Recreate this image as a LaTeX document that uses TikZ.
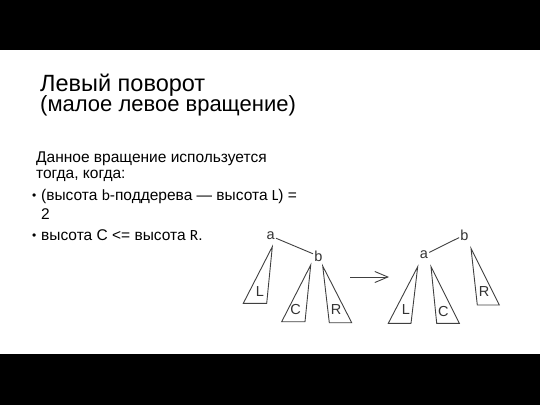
\documentclass[tikz,border=0pt]{standalone}
\usepackage{fontspec}
\setmainfont{Liberation Sans}
\newfontfamily\calfont{Carlito}
\usetikzlibrary{arrows.meta}

\begin{document}
\begin{tikzpicture}[x=1pt,y=-1pt,
		txt/.style={anchor=base west,inner sep=0pt,font=\fontsize{15.5}{15.5}\selectfont},
		key/.style={inner sep=1pt,font=\fontsize{14.5}{14.5}\selectfont,text=black!80},
		edge/.style={draw=black!75,line width=0.9pt}]
		%%%%% START %%%%%
		\useasboundingbox (0,0) rectangle (540,405);
		\fill[black] (0,0) rectangle (540,50);
		\fill[black] (0,354) rectangle (540,405);
		
		\node[txt,font=\fontsize{23.5}{23.5}\selectfont] (title) at (40,91) {Левый поворот};
		\node[txt,font=\fontsize{22}{22}\selectfont] (subtitle) at (40,111) {(малое левое вращение)};
		
		\node[txt] (intro) at (36,162.5) {Данное вращение используется};
		\node[txt] (intro2) at (36,178.5) {тогда, когда:};
		\node[txt,font=\fontsize{12}{12}\selectfont] (dot1) at (32,199) {•};
		\node[txt] (cond1) at (41,200) {(высота {\calfont b}-поддерева — высота {\calfont L}) =};
		\node[txt] (cond1b) at (41,219.5) {2};
		\node[txt,font=\fontsize{12}{12}\selectfont] (dot2) at (32,239) {•};
		\node[txt] (cond2) at (41,240) {высота C <= высота {\calfont R}.};
		
		% before
		\node[key] (la) at (270.7,236) {a};
		\node[key] (lb) at (318.3,256) {b};
		\draw[edge] (la) -- (lb);
		\draw[edge] (272.3,246.7) -- (243.3,303.3) -- (266.7,303.3) -- cycle;
		\node[key] (lL) at (260,291.7) {L};
		\draw[edge] (310.7,265) -- (281.7,321.7) -- (305,321.7) -- cycle;
		\node[key] (lC) at (295.7,309.3) {C};
		\draw[edge] (322.7,266) -- (329.3,322.7) -- (351.7,322.7) -- cycle;
		\node[key] (lR) at (336,310) {R};
		
		\coordinate (arrS) at (350,277);
		\coordinate (arrE) at (389,277);
		\draw[edge,-{Straight Barb[length=13pt,width=11pt]}] (arrS) -- (arrE);
		
		% after
		\node[key] (rb) at (464.3,235) {b};
		\node[key] (ra) at (424,255) {a};
		\draw[edge] (ra) -- (rb);
		\draw[edge] (417.7,266.7) -- (388.3,323.3) -- (411,323.3) -- cycle;
		\node[key] (rL) at (406,310) {L};
		\draw[edge] (431,266.7) -- (436.7,323.3) -- (459.3,323.3) -- cycle;
		\node[key] (rC) at (443.3,311.7) {C};
		\draw[edge] (471,248.3) -- (477.3,305) -- (499.3,305) -- cycle;
		\node[key] (rR) at (484,291.7) {R};
		
		%%%%% END %%%%%
	\end{tikzpicture}
\end{document}
